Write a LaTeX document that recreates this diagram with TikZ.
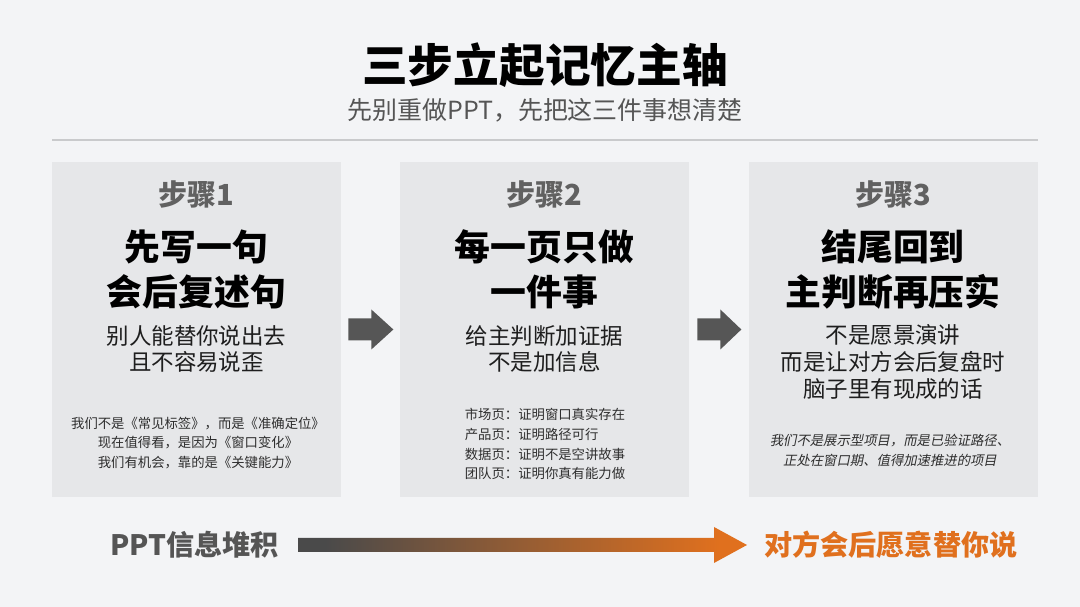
\documentclass[tikz,border=0pt]{standalone}
\usepackage{fontspec}
\setmainfont{Noto Sans CJK SC}
\newfontfamily\cjkit[FakeSlant=0.2]{Noto Sans CJK SC}
\definecolor{bgc}{HTML}{F3F4F6}
\definecolor{panelc}{HTML}{E6E7E9}
\definecolor{subc}{HTML}{555555}
\definecolor{stepc}{HTML}{616161}
\definecolor{arrc}{HTML}{565656}
\definecolor{orangec}{HTML}{E0701E}
\definecolor{gradg}{HTML}{4A4A4A}
\definecolor{bodyc}{HTML}{1E1E1E}
\definecolor{smallc}{HTML}{2E2E2E}
\definecolor{rulec}{HTML}{C9CACC}
\pgfdeclarehorizontalshading{pptshade}{100bp}{color(0bp)=(gradg); color(28bp)=(gradg); color(72bp)=(orangec); color(100bp)=(orangec)}
\tikzset{
  panel/.style={fill=panelc, draw=none, minimum width=289*0.02cm, minimum height=335*0.02cm, inner sep=0pt},
  steplabel/.style={text=stepc, font=\bfseries\fontsize{16.5}{18}\selectfont, inner sep=0pt},
  heading/.style={text=black, font=\bfseries\fontsize{20.4}{25.5}\selectfont, align=center, inner sep=0pt},
  subhead/.style={text=bodyc, font=\fontsize{12.8}{15.1}\selectfont, align=center, inner sep=0pt},
  smalltxt/.style={text=smallc, font=\fontsize{7.6}{11.3}\selectfont, align=center, inner sep=0pt},
  blockarrow/.style={fill=arrc, draw=none},
}
\begin{document}
\begin{tikzpicture}[x=0.02cm, y=-0.02cm]
\fill[bgc] (0,0) rectangle (1080,607);
\useasboundingbox (0,0) rectangle (1080,607);
% title
\node[font=\bfseries\fontsize{26}{28}\selectfont, inner sep=0pt] (title) at (545,65) {三步立起记忆主轴};
\node[text=subc, font=\fontsize{14.2}{16}\selectfont, inner sep=0pt] (subtitle) at (545,110) {先别重做PPT，先把这三件事想清楚};
\draw[rulec, line width=0.6pt] (52,140) -- (1038,140);
% panels
\node[panel] (p1) at (196.5,329.5) {};
\node[panel] (p2) at (544.5,329.5) {};
\node[panel] (p3) at (893,329.5) {};
% panel 1
\node[steplabel] (s1) at (196.5,195) {步骤1};
\node[heading] (h1) at (196.5,269.5) {先写一句\\会后复述句};
\node[subhead] (b1) at (196.5,349) {别人能替你说出去\\且不容易说歪};
\node[smalltxt] (t1) at (198,443) {我们不是《常见标签》，而是《准确定位》\\现在值得看，是因为《窗口变化》\\我们有机会，靠的是《关键能力》};
% panel 2
\node[steplabel] (s2) at (544.5,195) {步骤2};
\node[heading] (h2) at (544.5,269.5) {每一页只做\\一件事};
\node[subhead] (b2) at (544.5,349) {给主判断加证据\\不是加信息};
\node[smalltxt, align=left] (t2) at (545,444) {市场页：证明窗口真实存在\\产品页：证明路径可行\\数据页：证明不是空讲故事\\团队页：证明你真有能力做};
% panel 3
\node[steplabel] (s3) at (893,195) {步骤3};
\node[heading] (h3) at (893,269.5) {结尾回到\\主判断再压实};
\node[subhead] (b3) at (893,362) {不是愿景演讲\\而是让对方会后复盘时\\脑子里有现成的话};
\node[smalltxt, font=\cjkit\fontsize{7.6}{11.3}\selectfont] (t3) at (890,450) {我们不是展示型项目，而是已验证路径、\\正处在窗口期、值得加速推进的项目};
% block arrows between panels
\coordinate (a1s) at ([xshift=7*0.02cm]p1.east);
\coordinate (a2s) at ([xshift=8*0.02cm]p2.east);
\fill[blockarrow] (a1s) ++(0,-11) -- ++(23,0) -- ++(0,-9) -- ++(22,20) -- ++(-22,20) -- ++(0,-9) -- ++(-23,0) -- cycle;
\fill[blockarrow] (a2s) ++(0,-11) -- ++(23,0) -- ++(0,-9) -- ++(21,20) -- ++(-21,20) -- ++(0,-9) -- ++(-23,0) -- cycle;
% bottom
\node[text=subc, font=\bfseries\fontsize{16}{18}\selectfont, inner sep=0pt, anchor=east] (left) at (279,545) {PPT信息堆积};
\node[text=orangec, font=\bfseries\fontsize{16}{18}\selectfont, inner sep=0pt, anchor=west] (right) at (764,545) {对方会后愿意替你说};
\coordinate (ga) at ([xshift=19*0.02cm]left.east);
\coordinate (gb) at ([xshift=-17*0.02cm]right.west);
\shade[shading=pptshade] (ga) ++(0,-7) -- (714,538) -- (714,527) -- (gb) -- (714,563) -- (714,552) -- ([yshift=-7*0.02cm]ga) -- cycle;
\end{tikzpicture}
\end{document}
